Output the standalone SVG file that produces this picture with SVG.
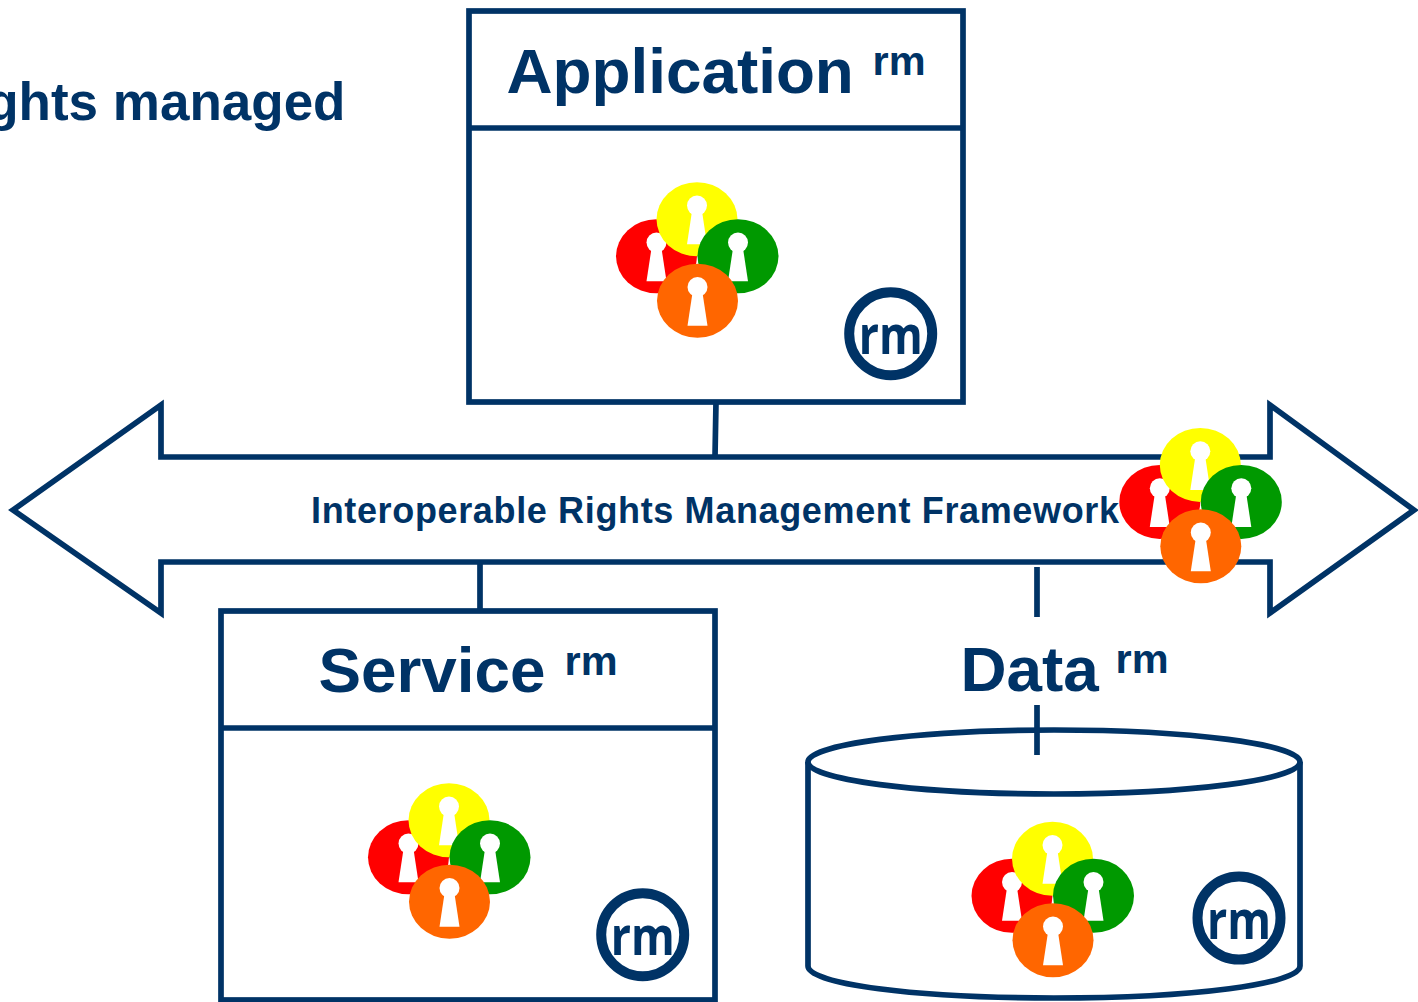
<svg xmlns="http://www.w3.org/2000/svg" xmlns:xlink="http://www.w3.org/1999/xlink" width="1418" height="1002" viewBox="0 0 1418 1002">
<style>
.s{fill:#fff;stroke:#003366;stroke-width:5.7}
.l{fill:none;stroke:#003366;stroke-width:5.7}
.t{font-family:"Liberation Sans",Arial,sans-serif;font-weight:700;fill:#003366}
.big{font-size:63.8px}
.sup{font-size:41.5px}
.b{fill:#fff;stroke:#003366;stroke-width:10}
.bt{font-family:"Open Sans",sans-serif;font-weight:700;font-size:54px;fill:#003366;text-anchor:middle}
</style>
<defs>
<g id="hole"><circle cx="0" cy="-13.7" r="10" fill="#fff"/><path d="M-5,-8L-10,25H10L5,-8Z" fill="#fff"/></g>
<g id="keys">
<ellipse cx="656.5" cy="256.3" rx="40.5" ry="37" fill="#ff0000"/><use href="#hole" x="656.5" y="256.3"/>
<ellipse cx="697" cy="219.3" rx="40.5" ry="37" fill="#ffff00"/><use href="#hole" x="697" y="219.3"/>
<ellipse cx="738" cy="256.3" rx="40.5" ry="37" fill="#009900"/><use href="#hole" x="738" y="256.3"/>
<ellipse cx="697.5" cy="300.7" rx="40.5" ry="37" fill="#ff6600"/><use href="#hole" x="697.5" y="300.7"/>
</g>
</defs>
<rect width="1418" height="1002" fill="#fff"/>
<text id="caption" class="t" x="345.5" y="120" font-size="53" text-anchor="end">ghts managed</text>
<g id="connectors">
<path class="l" d="M716,402L715,457M480,562V611M1037,567V617"/>
</g>
<g id="framework">
<path class="s" stroke-miterlimit="10" d="M13,510L161,405V457H1270V405L1414,510L1270,613V562H161V613Z"/>
<text class="t" x="311" y="523" font-size="36" textLength="808" lengthAdjust="spacing">Interoperable Rights Management Framework</text>
<use href="#keys" x="503.3" y="245.6"/>
</g>
<g id="application">
<rect class="s" x="469" y="11" width="494" height="391"/>
<path class="l" d="M469,128H963"/>
<text class="t big" x="506.5" y="93">Application</text>
<text class="t sup" x="872.5" y="75">rm</text>
<use href="#keys"/>
<circle class="b" cx="890.7" cy="333.7" r="41.5"/>
<text class="bt" x="890.7" y="354" textLength="64" lengthAdjust="spacingAndGlyphs">rm</text>
</g>
<g id="service">
<rect class="s" x="221" y="611" width="494" height="389"/>
<path class="l" d="M221,728H715"/>
<text class="t big" x="318.5" y="692">Service</text>
<text class="t sup" x="564.5" y="675">rm</text>
<use href="#keys" x="-248" y="601"/>
<circle class="b" cx="642.7" cy="934.7" r="41.5"/>
<text class="bt" x="642.7" y="955" textLength="64" lengthAdjust="spacingAndGlyphs">rm</text>
</g>
<g id="data">
<path class="s" d="M808,762V966C808,984 915,998 1054,998C1193,998 1300,984 1300,966V762"/>
<ellipse class="s" cx="1054" cy="762" rx="246" ry="32"/>
<path class="l" d="M1037,705V755"/>
<text class="t big" x="960.5" y="691">Data</text>
<text class="t sup" x="1115.5" y="673">rm</text>
<use href="#keys" x="355.5" y="639.5"/>
<circle class="b" cx="1239" cy="918" r="41.5"/>
<text class="bt" x="1239" y="939" textLength="64" lengthAdjust="spacingAndGlyphs">rm</text>
</g>
</svg>
